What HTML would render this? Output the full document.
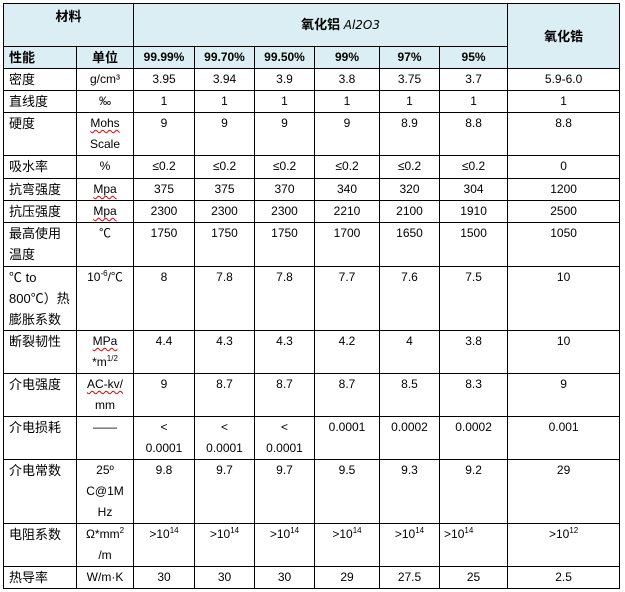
<!DOCTYPE html>
<html><head><meta charset="utf-8">
<style>
body{margin:0;background:#fff;width:625px;height:592px;overflow:hidden;}
table{position:absolute;left:3px;top:3px;border-collapse:collapse;table-layout:fixed;width:616px;
font-family:"Liberation Sans","Noto Sans CJK SC",sans-serif;font-size:12px;color:#000;}
td{border:1px solid #000;padding:0;text-align:center;vertical-align:top;line-height:21px;overflow:hidden;}
td.l{text-align:left;padding-left:5px;font-size:13px;}
.h{background:#daeef3;font-weight:bold;}
.cn{font-size:13px;}
sup{font-size:8px;line-height:0;}
.w{text-decoration:underline wavy #d00;text-decoration-thickness:1px;text-underline-offset:2px;}
</style></head><body>
<table>
<colgroup><col style="width:73px"><col style="width:57px"><col style="width:61px"><col style="width:60px"><col style="width:60px"><col style="width:65px"><col style="width:60px"><col style="width:68px"><col style="width:112px"></colgroup>
<tr style="height:43px"><td colspan="2" class="h cn" style="padding-top:2px">材料</td><td colspan="6" class="h cn" style="vertical-align:middle;padding-left:40px">氧化铝 <span style="font-weight:normal;font-style:italic;font-family:'DejaVu Sans',sans-serif;font-size:12px">Al2O3</span></td><td rowspan="2" class="h cn" style="vertical-align:middle">氧化锆</td></tr>
<tr style="height:22px"><td class="h l">性能</td><td class="h cn">单位</td><td class="h">99.99%</td><td class="h">99.70%</td><td class="h">99.50%</td><td class="h">99%</td><td class="h">97%</td><td class="h">95%</td></tr>
<tr style="height:22px"><td class="l">密度</td><td>g/cm³</td><td>3.95</td><td>3.94</td><td>3.9</td><td>3.8</td><td>3.75</td><td>3.7</td><td>5.9-6.0</td></tr>
<tr style="height:22px"><td class="l">直线度</td><td>‰</td><td>1</td><td>1</td><td>1</td><td>1</td><td>1</td><td>1</td><td>1</td></tr>
<tr style="height:43px"><td class="l">硬度</td><td><span class="w">Mohs</span><br>Scale</td><td>9</td><td>9</td><td>9</td><td>9</td><td>8.9</td><td>8.8</td><td>8.8</td></tr>
<tr style="height:23px"><td class="l">吸水率</td><td>%</td><td>≤0.2</td><td>≤0.2</td><td>≤0.2</td><td>≤0.2</td><td>≤0.2</td><td>≤0.2</td><td>0</td></tr>
<tr style="height:22px"><td class="l">抗弯强度</td><td><span class="w">Mpa</span></td><td>375</td><td>375</td><td>370</td><td>340</td><td>320</td><td>304</td><td>1200</td></tr>
<tr style="height:22px"><td class="l">抗压强度</td><td><span class="w">Mpa</span></td><td>2300</td><td>2300</td><td>2300</td><td>2210</td><td>2100</td><td>1910</td><td>2500</td></tr>
<tr style="height:44px"><td class="l">最高使用<br>温度</td><td>℃</td><td>1750</td><td>1750</td><td>1750</td><td>1700</td><td>1650</td><td>1500</td><td>1050</td></tr>
<tr style="height:62px"><td class="l">℃ to<br>800℃）热<br>膨胀系数</td><td>10<sup>-6</sup>/℃</td><td>8</td><td>7.8</td><td>7.8</td><td>7.7</td><td>7.6</td><td>7.5</td><td>10</td></tr>
<tr style="height:43px"><td class="l">断裂韧性</td><td><span class="w">MPa</span><br>*m<sup>1/2</sup></td><td>4.4</td><td>4.3</td><td>4.3</td><td>4.2</td><td>4</td><td>3.8</td><td>10</td></tr>
<tr style="height:43px"><td class="l">介电强度</td><td><span class="w">AC-kv/</span><br>mm</td><td>9</td><td>8.7</td><td>8.7</td><td>8.7</td><td>8.5</td><td>8.3</td><td>9</td></tr>
<tr style="height:43px"><td class="l">介电损耗</td><td>——</td><td>&lt;<br>0.0001</td><td>&lt;<br>0.0001</td><td>&lt;<br>0.0001</td><td>0.0001</td><td>0.0002</td><td>0.0002</td><td>0.001</td></tr>
<tr style="height:64px"><td class="l">介电常数</td><td>25º<br>C@1M<br>Hz</td><td>9.8</td><td>9.7</td><td>9.7</td><td>9.5</td><td>9.3</td><td>9.2</td><td>29</td></tr>
<tr style="height:43px"><td class="l">电阻系数</td><td>Ω*mm<sup>2</sup><br>/m</td><td>&gt;10<sup>14</sup></td><td>&gt;10<sup>14</sup></td><td>&gt;10<sup>14</sup></td><td>&gt;10<sup>14</sup></td><td>&gt;10<sup>14</sup></td><td style="text-align:left;padding-left:4px">&gt;10<sup>14</sup></td><td>&gt;10<sup>12</sup></td></tr>
<tr style="height:22px"><td class="l">热导率</td><td>W/m·K</td><td>30</td><td>30</td><td>30</td><td>29</td><td>27.5</td><td>25</td><td>2.5</td></tr>
</table>
</body></html>
